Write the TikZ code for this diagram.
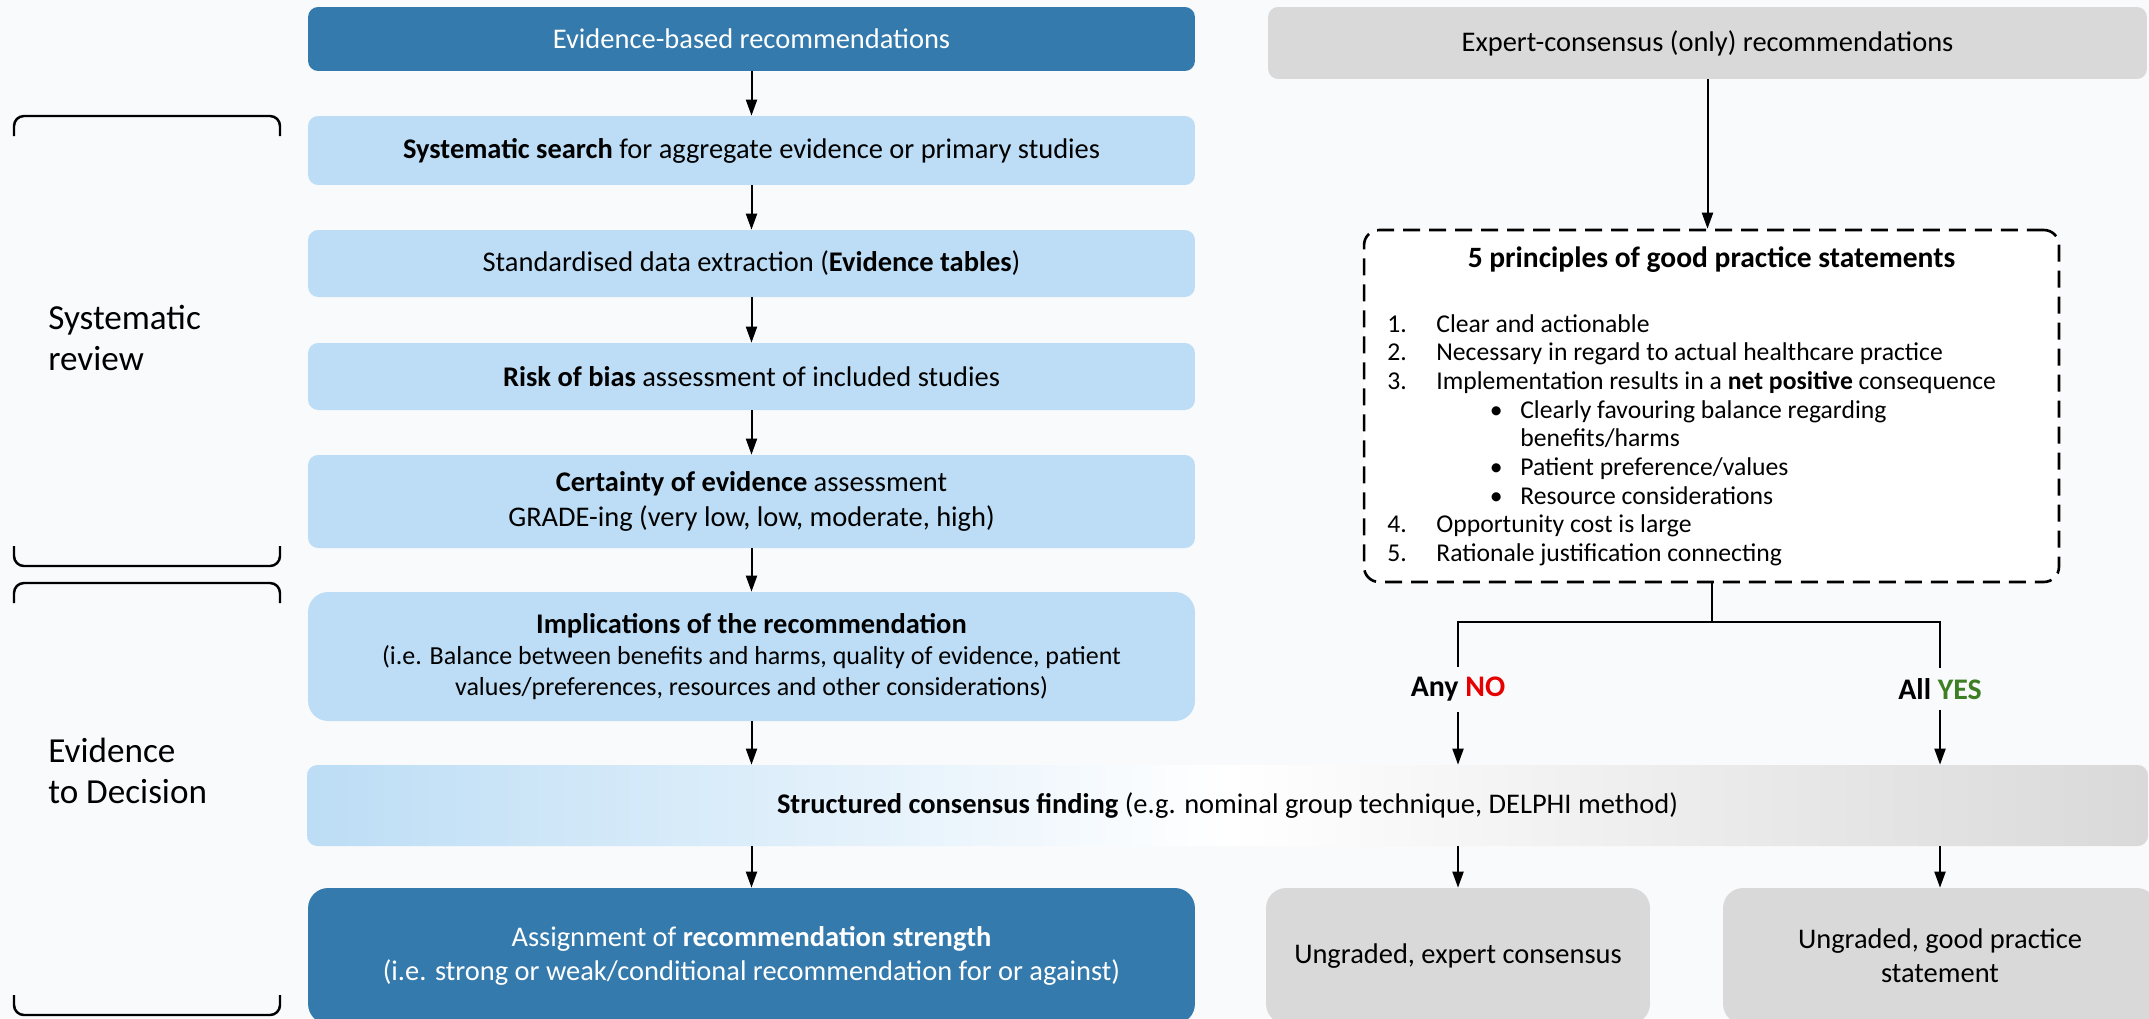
\documentclass[tikz,border=0pt]{standalone}
\usepackage{fontspec}
\setmainfont{Carlito}
\usepackage{xcolor}
\usepackage{tikz}
\usetikzlibrary{arrows.meta}
\definecolor{darkblue}{RGB}{52,122,172}
\definecolor{lightblue}{RGB}{188,221,245}
\definecolor{boxgray}{RGB}{217,217,217}
\definecolor{bggray}{RGB}{249,250,252}
\definecolor{nored}{RGB}{230,0,0}
\definecolor{yesgreen}{RGB}{62,126,36}
\tikzset{
box/.style={
  rectangle,
  rounded corners=0.2cm,
  align=center,
  inner sep=0pt,
  font=\fontsize{16.2}{19.5}\selectfont
},
topbox/.style={box, fill=darkblue, text=white, minimum width=17.74cm},
stepbox/.style={box, fill=lightblue, minimum width=17.74cm},
graybox/.style={box, fill=boxgray, text=black},
consbox/.style={box, left color=lightblue, right color=boxgray, middle color=white,
  minimum width=36.82cm, minimum height=1.62cm},
gpsbox/.style={rectangle, draw, dashed, dash pattern=on 0.34cm off 0.18cm,
  line width=1.5pt, rounded corners=0.3cm, fill=white,
  minimum width=13.9cm, minimum height=7.04cm},
listtext/.style={align=left, inner sep=0pt, font=\fontsize{14.6}{16.3}\selectfont},
choice/.style={inner sep=0.2cm, font=\fontsize{17}{20}\selectfont\bfseries},
sidetext/.style={align=left, inner sep=0pt, font=\fontsize{20}{23.5}\selectfont},
line/.style={line width=0.04cm},
arrow/.style={line width=0.04cm, -{Triangle[length=0.32cm,width=0.22cm]}},
bracket/.style={line width=1.4pt, rounded corners=0.2cm}
}
\newcommand{\smalltext}{\fontsize{14.8}{17.8}\selectfont}

\begin{document}
\begin{tikzpicture}[x=0.02cm, y=-0.02cm]
\useasboundingbox (0,0) rectangle (2149,1018);
\clip (0,0) rectangle (2149,1018);
\fill[bggray] (0,0) rectangle (2149,1018);

% left column
\node[topbox, minimum height=1.28cm] (ebr) at (751.5,39) {Evidence-based recommendations};
\node[stepbox, minimum height=1.38cm] (srch) at (751.5,150.5) {\textbf{Systematic search} for aggregate evidence or primary studies};
\node[stepbox, minimum height=1.34cm] (extr) at (751.5,263.5) {Standardised data extraction (\textbf{Evidence tables})};
\node[stepbox, minimum height=1.34cm] (bias) at (751.5,376.5) {\textbf{Risk of bias} assessment of included studies};
\node[stepbox, minimum height=1.86cm] (cert) at (751.5,501.5) {\textbf{Certainty of evidence} assessment\\GRADE-ing (very low, low, moderate, high)};
\node[stepbox, minimum height=2.58cm, rounded corners=0.4cm, font=\fontsize{16.2}{17.8}\selectfont] (impl) at (751.5,656.5) {\textbf{Implications of the recommendation}\\\smalltext(i.e. Balance between benefits and harms, quality of evidence, patient\\\smalltext values/preferences, resources and other considerations)};
\node[consbox] (cons) at (1227.5,805.5) {\textbf{Structured consensus finding} (e.g. nominal group technique, DELPHI method)};
\node[topbox, minimum height=2.72cm, rounded corners=0.4cm] (strg) at (751.5,956) {Assignment of \textbf{recommendation strength}\\(i.e. strong or weak/conditional recommendation for or against)};

% right column
\node[graybox, minimum width=17.58cm, minimum height=1.44cm] (expt) at (1707.5,43) {Expert-consensus (only) recommendations};
\node[gpsbox] (gps) at (1711.5,406) {};
\node[inner sep=0pt, font=\fontsize{16.8}{20}\selectfont\bfseries] (gpstitle) at (1711.5,260) {5 principles of good practice statements};
\node[listtext, anchor=north west] (gpslist) at (1387,314) {%
\makebox[0.98cm][l]{1.}Clear and actionable\\
\makebox[0.98cm][l]{2.}Necessary in regard to actual healthcare practice\\
\makebox[0.98cm][l]{3.}Implementation results in a \textbf{net positive} consequence\\
\hspace*{2.05cm}\makebox[0.61cm][l]{\textbullet}Clearly favouring balance regarding\\
\hspace*{2.66cm}benefits/harms\\
\hspace*{2.05cm}\makebox[0.61cm][l]{\textbullet}Patient preference/values\\
\hspace*{2.05cm}\makebox[0.61cm][l]{\textbullet}Resource considerations\\
\makebox[0.98cm][l]{4.}Opportunity cost is large\\
\makebox[0.98cm][l]{5.}Rationale justification connecting};
\coordinate (split) at ([yshift=-0.78cm]gps.south);
\node[choice] (anyno) at (1458,689) {Any \textcolor{nored}{NO}};
\node[choice] (allyes) at (1940,689) {All \textcolor{yesgreen}{YES}};
\node[graybox, minimum width=7.68cm, minimum height=2.72cm, rounded corners=0.4cm] (uexp) at (1458,956) {Ungraded, expert consensus};
\node[graybox, minimum width=8.68cm, minimum height=2.72cm, rounded corners=0.4cm] (ugps) at (1940,956) {Ungraded, good practice\\statement};

% the side labels
\node[sidetext, anchor=west] (sysrev) at (48,338) {Systematic\\review};
\node[sidetext, anchor=west] (etod) at (48,771) {Evidence\\to Decision};
\foreach \t/\b in {116/566, 583/1015}
{
  \draw[bracket] (14,{\t+20}) -- (14,\t) -- (280,\t) -- (280,{\t+20});
  \draw[bracket] (14,{\b-20}) -- (14,\b) -- (280,\b) -- (280,{\b-20});
}

% the arrows
\foreach \a/\b in {ebr/srch, srch/extr, extr/bias, bias/cert, cert/impl, impl/cons}
{
  \draw[arrow] (\a.south) -- (\a.south |- \b.north);
}
\foreach \b in {strg, uexp, ugps}
{
  \draw[arrow] (\b.north |- cons.south) -- (\b.north);
}
\draw[arrow] (expt.south) -- (expt.south |- gps.north);
\draw[line] (gps.south) -- (split);
\draw[line] (split) -| (anyno.north);
\draw[line] (split) -| (allyes.north);
\draw[arrow] (anyno.south) -- (anyno.south |- cons.north);
\draw[arrow] (allyes.south) -- (allyes.south |- cons.north);
\end{tikzpicture}
\end{document}
